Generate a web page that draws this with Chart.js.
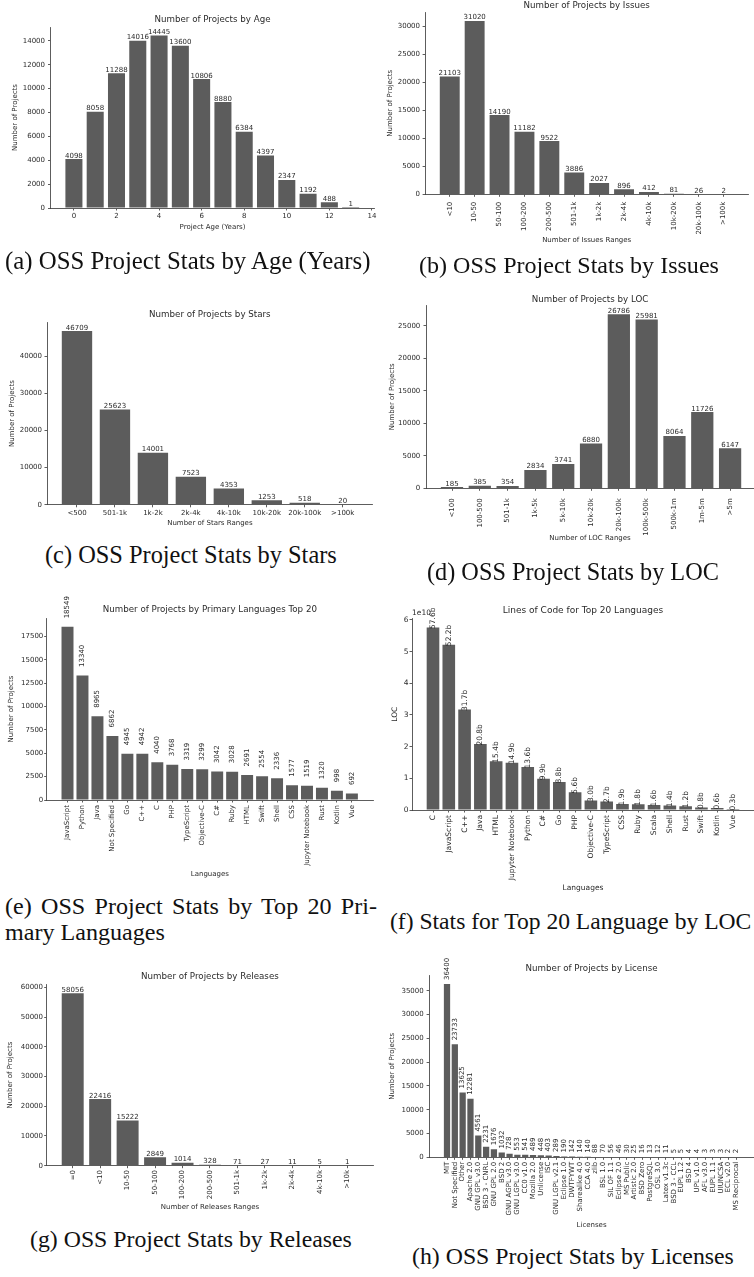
<!DOCTYPE html>
<html>
<head>
<meta charset="utf-8">
<title>OSS Project Stats</title>
<script src="https://cdn.jsdelivr.net/npm/chart.js@4.4.1/dist/chart.umd.min.js"></script>
<style>
  html, body { margin:0; padding:0; background:#fff; width:754px; height:1277px; overflow:hidden; position:relative; }
  canvas { position:absolute; }
  .cap { position:absolute; white-space:nowrap; font-family:"Liberation Serif","Times New Roman",serif; color:#111; line-height:1; }
</style>
</head>
<body>
<script>
// ---------------- DATA ----------------
const ageYears  = [0,1,2,3,4,5,6,7,8,9,10,11,12,13];
const ageCounts = [4098,8058,11288,14016,14445,13600,10806,8880,6384,4397,2347,1192,488,1];
const ageXTicks = [0,2,4,6,8,10,12,14];
const ageYTicks = [0,2000,4000,6000,8000,10000,12000,14000];

const issueRanges = ['<10','10-50','50-100','100-200','200-500','501-1k','1k-2k','2k-4k','4k-10k','10k-20k','20k-100k','>100k'];
const issueCounts = [21103,31020,14190,11182,9522,3886,2027,896,412,81,26,2];
const issueYTicks = [0,5000,10000,15000,20000,25000,30000];

const starRanges = ['<500','501-1k','1k-2k','2k-4k','4k-10k','10k-20k','20k-100k','>100k'];
const starCounts = [46709,25623,14001,7523,4353,1253,518,20];
const starYTicks = [0,10000,20000,30000,40000];

const locRanges = ['<100','100-500','501-1k','1k-5k','5k-10k','10k-20k','20k-100k','100k-500k','500k-1m','1m-5m','>5m'];
const locCounts = [185,385,354,2834,3741,6880,26786,25981,8064,11726,6147];
const locYTicks = [0,5000,10000,15000,20000,25000];

const langNames  = ['JavaScript','Python','Java','Not Specified','Go','C++','C','PHP','TypeScript','Objective-C','C#','Ruby','HTML','Swift','Shell','CSS','Jupyter Notebook','Rust','Kotlin','Vue'];
const langCounts = [18549,13340,8965,6862,4945,4942,4040,3768,3319,3299,3042,3028,2691,2554,2336,1577,1519,1320,998,692];
const langYTicks = [0,2500,5000,7500,10000,12500,15000,17500];

const locLangNames    = ['C','JavaScript','C++','Java','HTML','Jupyter Notebook','Python','C#','Go','PHP','Objective-C','TypeScript','CSS','Ruby','Scala','Shell','Rust','Swift','Kotlin','Vue'];
const locLangBillions = [57.6,52.2,31.7,20.8,15.4,14.9,13.6,9.9,8.8,5.6,3.0,2.7,1.9,1.8,1.6,1.4,1.2,0.8,0.6,0.3];
const locLangYTicks   = [0,1,2,3,4,5,6];   // in units of 1e10

const releaseRanges = ['=0','<10','10-50','50-100','100-200','200-500','501-1k','1k-2k','2k-4k','4k-10k','>10k'];
const releaseCounts = [58056,22416,15222,2849,1014,328,71,27,11,5,1];
const releaseYTicks = [0,10000,20000,30000,40000,50000,60000];

const licenseNames  = ['MIT','Not Specified','Other','Apache 2.0','GNU GPL v3.0','BSD 3 - CNRL','GNU GPL 2.0','BSD 2','GNU AGPL v3.0','GNU LGPL v3.0','CC0 v1.0','Mozilla 2.0','Unlicense','ISC','GNU LGPL v2.1','Eclipse 1.0','DWTFYWT','Sharealike 4.0','CCA 4.0','zlib','BSL 1.0','SIL OF 1.1','Eclipse 2.0','MS Public','Artistic 2.0','BSD Zero','PostgreSQL','OSL 3.0','Latex v1.3c','BSD 3 - CCL','EUPL 1.2','BSD 4','UPL v1.0','AFL v3.0','EUPL 1.1','UIUNCSA','ECL v2.0','MS Reciprocal'];
const licenseCounts = [36400,23733,13625,12281,4561,2231,1676,1032,728,553,541,489,448,403,289,190,142,140,140,88,70,56,46,30,25,16,13,12,11,5,5,4,4,3,3,3,2,2];
const licenseYTicks = [0,5000,10000,15000,20000,25000,30000,35000];

// ---------------- STYLE / LAYOUT ----------------
const FF  = "'DejaVu Sans', sans-serif";
const TXT = '#2a2a2a', AX = '#333333', BAR = '#5c5c5c';
const idx = a => a.map((_, i) => i);

const PANELS = [
  { canvas:[0,0,377,250], plot:{L:50.5,T:27,R:374.5,B:208}, xmin:-1.1, xmax:14.12,
    titleY:19.3, yTitleX:15, xTitleY:227, yPad:3, xPad:1.3, rot:0,
    title:'Number of Projects by Age', xTitle:'Project Age (Years)', yTitle:'Number of Projects',
    xs:ageYears, values:ageCounts, xTicks:ageXTicks, xLabel:v=>String(v), yTicks:ageYTicks,
    labels:ageCounts.map(String), rotLabels:false, labelGap:1.5 },
  { canvas:[377,0,377,250], plot:{L:425.1,T:12.3,R:748.3,B:194.3}, xmin:-0.99, xmax:11.99,
    titleY:5.5, yTitleX:390, xTitleY:240, yPad:2.6, xPad:4.9, rot:90,
    title:'Number of Projects by Issues', xTitle:'Number of Issues Ranges', yTitle:'Number of Projects',
    xs:idx(issueRanges), values:issueCounts, xTicks:idx(issueRanges), xLabel:v=>issueRanges[v], yTicks:issueYTicks,
    labels:issueCounts.map(String), rotLabels:false, labelGap:1.5 },
  { canvas:[0,250,377,290], plot:{L:47,T:322.4,R:372.7,B:504.8}, xmin:-0.79, xmax:7.79,
    titleY:315, yTitleX:11.7, xTitleY:523.3, yPad:2.5, xPad:1.8, rot:0,
    title:'Number of Projects by Stars', xTitle:'Number of Stars Ranges', yTitle:'Number of Projects',
    xs:idx(starRanges), values:starCounts, xTicks:idx(starRanges), xLabel:v=>starRanges[v], yTicks:starYTicks,
    labels:starCounts.map(String), rotLabels:false, labelGap:1.5 },
  { canvas:[377,250,377,300], plot:{L:426,T:305.5,R:754,B:488.3}, xmin:-0.935, xmax:10.86,
    titleY:300, yTitleX:392, xTitleY:538.3, yPad:3.2, xPad:7.5, rot:90,
    title:'Number of Projects by LOC', xTitle:'Number of LOC Ranges', yTitle:'Number of Projects',
    xs:idx(locRanges), values:locCounts, xTicks:idx(locRanges), xLabel:v=>locRanges[v], yTicks:locYTicks,
    labels:locCounts.map(String), rotLabels:false, labelGap:1.5 },
  { canvas:[0,585,377,300], plot:{L:46.7,T:618.2,R:373,B:800}, xmin:-1.39, xmax:20.41,
    titleY:610, yTitleX:11, xTitleY:874.3, yPad:0.9, xPad:2.5, rot:90,
    title:'Number of Projects by Primary Languages Top 20', xTitle:'Languages', yTitle:'Number of Projects',
    xs:idx(langNames), values:langCounts, xTicks:idx(langNames), xLabel:v=>langNames[v], yTicks:langYTicks,
    labels:langCounts.map(String), rotLabels:true, labelGap:8.5 },
  { canvas:[377,585,377,310], plot:{L:412,T:618.4,R:754,B:810}, xmin:-1.33, xmax:20.33,
    titleY:611, yTitleX:395, xTitleY:888.3, yPad:1, xPad:2.5, rot:90,
    titleFont:9, tickFont:7.5, axisFont:7.5, labelFont:7.5,
    title:'Lines of Code for Top 20 Languages', xTitle:'Languages', yTitle:'LOC',
    xs:idx(locLangNames), values:locLangBillions.map(b=>b*1e9), xTicks:idx(locLangNames), xLabel:v=>locLangNames[v],
    yTicks:locLangYTicks.map(t=>t*1e10), yLabel:v=>String(Math.round(v/1e10)),
    labels:locLangBillions.map(b=>b.toFixed(1)+'b'), rotLabels:true, labelGap:-1.5,
    offsetText:'1e10', offsetDx:0, offsetDy:3 },
  { canvas:[0,955,377,270], plot:{L:46.7,T:984.5,R:373.1,B:1165.7}, xmin:-0.947, xmax:10.94,
    titleY:976.7, yTitleX:10, xTitleY:1207.3, yPad:1.2, xPad:1.8, rot:90,
    title:'Number of Projects by Releases', xTitle:'Number of Releases Ranges', yTitle:'Number of Projects',
    xs:idx(releaseRanges), values:releaseCounts, xTicks:idx(releaseRanges), xLabel:v=>releaseRanges[v], yTicks:releaseYTicks,
    labels:releaseCounts.map(String), rotLabels:false, labelGap:1.5 },
  { canvas:[377,945,377,295], plot:{L:429.1,T:975.4,R:754,B:1157.3}, xmin:-2.29, xmax:39.26,
    titleY:968.3, yTitleX:392, xTitleY:1225, yPad:2.9, xPad:1.9, rot:90,
    title:'Number of Projects by License', xTitle:'Licenses', yTitle:'Number of Projects',
    xs:idx(licenseNames), values:licenseCounts, xTicks:idx(licenseNames), xLabel:v=>licenseNames[v], yTicks:licenseYTicks,
    labels:licenseCounts.map(String), rotLabels:true, labelGap:4 }
];

const CAPS = [
  {t:'(a) OSS Project Stats by Age (Years)', x:5,   w:367, y:262},
  {t:'(b) OSS Project Stats by Issues',      x:419, w:300, y:265},
  {t:'(c) OSS Project Stats by Stars',       x:45,  w:292, y:555},
  {t:'(d) OSS Project Stats by LOC',         x:427, w:292, y:572},
  {t:'(f) Stats for Top 20 Language by LOC', x:390, w:362, y:922},
  {t:'(g) OSS Project Stats by Releases',    x:30,  w:322, y:1240},
  {t:'(h) OSS Project Stats by Licenses',    x:412, w:322, y:1257}
];
const CAP_E = [{t:'(e) OSS Project Stats by Top 20 Pri-', x:5, w:372, y:906}, {t:'mary Languages', x:5, y:932}];

// ---------------- PLUGIN: value labels ----------------
const barLabels = {
  id: 'barLabels',
  afterDatasetsDraw(chart, args, o) {
    if (!o || !o.labels) return;
    const ctx = chart.ctx, meta = chart.getDatasetMeta(0);
    ctx.save();
    ctx.fillStyle = o.color;
    ctx.font = o.size + 'px ' + FF;
    meta.data.forEach((el, i) => {
      const t = o.labels[i];
      if (o.rotate) {
        ctx.save();
        ctx.translate(el.x, el.y - o.gap);
        ctx.rotate(-Math.PI / 2);
        ctx.textAlign = 'left'; ctx.textBaseline = 'middle';
        ctx.fillText(t, 0, 0);
        ctx.restore();
      } else {
        ctx.textAlign = 'center'; ctx.textBaseline = 'alphabetic';
        ctx.fillText(t, el.x, el.y - o.gap);
      }
    });
    if (o.offsetText) {
      ctx.textAlign = 'left'; ctx.textBaseline = 'alphabetic';
      ctx.fillText(o.offsetText, chart.chartArea.left + o.offsetDx, chart.chartArea.top - o.offsetDy);
    }
    ctx.restore();
  }
};

function makeChart(p) {
  const [cx, cy, cw, ch] = p.canvas;
  const {L, T, R, B} = p.plot;
  const cv = document.createElement('canvas');
  cv.width = cw; cv.height = ch;
  Object.assign(cv.style, {left: cx + 'px', top: cy + 'px', width: cw + 'px', height: ch + 'px'});
  document.body.appendChild(cv);
  const tf = p.titleFont || 8.7, tlh = tf * 1.2;
  const af = p.axisFont || 7, alh = af * 1.2;
  const kf = p.tickFont || 7;
  const grid = {drawOnChartArea: false, drawTicks: true, tickLength: 2.5, tickColor: AX, lineWidth: 0.8, offset: false};
  const border = {display: true, color: AX, width: 0.8};
  new Chart(cv, {
    type: 'bar',
    data: { datasets: [{
      data: p.values.map((v, i) => ({x: p.xs[i], y: v})),
      backgroundColor: BAR, borderWidth: 0, barPercentage: 0.8, categoryPercentage: 1
    }]},
    options: {
      responsive: false, animation: false, devicePixelRatio: 1,
      events: [],
      layout: { autoPadding: false, padding: {left: 0, right: cx + cw - R, top: p.titleY - tlh / 2 - cy, bottom: 0} },
      plugins: {
        legend: {display: false}, tooltip: {enabled: false},
        title: { display: true, text: p.title, fullSize: false, align: 'center', color: TXT,
                 font: {family: FF, size: tf, weight: 'normal', lineHeight: 1.2},
                 padding: {top: 0, bottom: T - p.titleY - tlh / 2} },
        barLabels: { labels: p.labels, rotate: p.rotLabels, gap: p.labelGap, size: p.labelFont || 7, color: TXT,
                     offsetText: p.offsetText, offsetDx: p.offsetDx || 0, offsetDy: p.offsetDy || 0 }
      },
      scales: {
        x: {
          type: 'linear', min: p.xmin, max: p.xmax, offset: false,
          afterBuildTicks: s => { s.ticks = p.xTicks.map(v => ({value: v})); },
          afterFit: s => { s.height = cy + ch - B; s.paddingLeft = 0; s.paddingRight = 0; s.paddingTop = 0; s.paddingBottom = 0; },
          ticks: { autoSkip: false, maxRotation: p.rot, minRotation: p.rot, padding: p.xPad, color: TXT,
                   font: {family: FF, size: kf, lineHeight: 1.2}, callback: v => p.xLabel(v) },
          grid, border,
          title: { display: true, text: p.xTitle, color: TXT, font: {family: FF, size: af, lineHeight: 1.2},
                   padding: {top: 0, bottom: cy + ch - p.xTitleY - alh / 2} }
        },
        y: {
          type: 'linear', min: 0, max: 1.05 * Math.max(...p.values),
          afterBuildTicks: s => { s.ticks = p.yTicks.map(v => ({value: v})); },
          afterFit: s => { s.width = L - cx; s.paddingTop = 0; s.paddingBottom = 0; s.paddingLeft = 0; s.paddingRight = 0; },
          ticks: { padding: p.yPad, color: TXT, font: {family: FF, size: kf, lineHeight: 1.2},
                   callback: v => p.yLabel ? p.yLabel(v) : String(v) },
          grid, border,
          title: { display: true, text: p.yTitle, color: TXT, font: {family: FF, size: af, lineHeight: 1.2},
                   padding: {top: p.yTitleX - cx - alh / 2, bottom: 0} }
        }
      }
    },
    plugins: [barLabels]
  });
}

PANELS.forEach(makeChart);

// ---------------- CAPTIONS ----------------
const mctx = document.createElement('canvas').getContext('2d');
function fitSize(text, w) {
  mctx.font = '100px "Liberation Serif"';
  return 100 * w / mctx.measureText(text).width;
}
function addCap(text, x, y, fs, width) {
  const d = document.createElement('div');
  d.className = 'cap';
  d.textContent = text;
  d.style.fontSize = fs + 'px';
  d.style.left = x + 'px';
  d.style.top = (y - 0.506 * fs) + 'px';
  if (width) { d.style.width = width + 'px'; d.style.textAlign = 'justify'; d.style.textAlignLast = 'justify'; }
  document.body.appendChild(d);
}
let sizes = [];
CAPS.forEach(c => { const fs = fitSize(c.t, c.w); sizes.push(fs); addCap(c.t, c.x, c.y, fs); });
const common = sizes.reduce((a, b) => a + b, 0) / sizes.length;
addCap(CAP_E[0].t, CAP_E[0].x, CAP_E[0].y, common, CAP_E[0].w);
addCap(CAP_E[1].t, CAP_E[1].x, CAP_E[1].y, common);
</script>
</body>
</html>
